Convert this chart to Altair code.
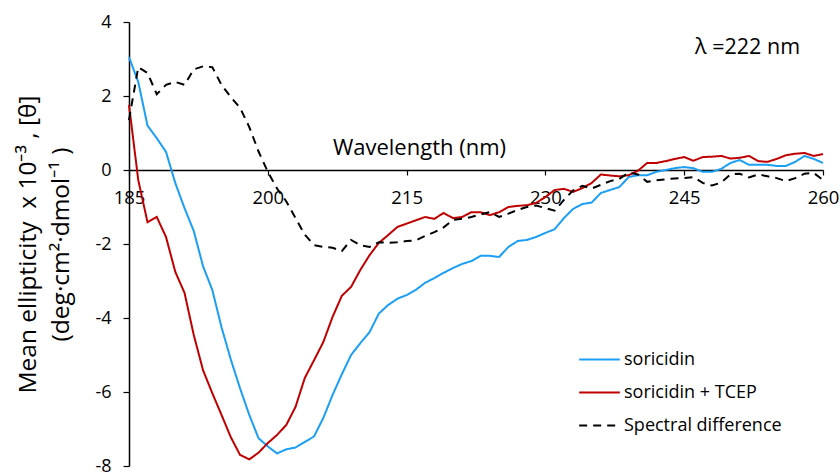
import altair as alt
import pandas as pd

# CD spectra, 185-260 nm in 1 nm steps
wavelength = list(range(185, 261))

soricidin = [
    3.05, 2.38, 1.20, 0.86, 0.49, -0.35, -1.03, -1.65, -2.60, -3.24,
    -4.25, -5.12, -5.90, -6.62, -7.25, -7.47, -7.66, -7.55, -7.50, -7.35,
    -7.20, -6.70, -6.08, -5.52, -5.00, -4.68, -4.38, -3.88, -3.65, -3.48,
    -3.38, -3.24, -3.05, -2.92, -2.78, -2.65, -2.54, -2.46, -2.32, -2.32,
    -2.35, -2.08, -1.92, -1.89, -1.81, -1.70, -1.60, -1.30, -1.05, -0.92,
    -0.88, -0.62, -0.54, -0.46, -0.19, -0.14, -0.14, -0.05, 0.00, 0.05,
    0.08, 0.05, -0.05, -0.05, 0.03, 0.19, 0.27, 0.14, 0.14, 0.14,
    0.11, 0.11, 0.22, 0.38, 0.30, 0.19,
]

soricidin_tcep = [
    1.76, -0.27, -1.41, -1.27, -1.81, -2.75, -3.32, -4.46, -5.41, -6.03,
    -6.62, -7.22, -7.70, -7.82, -7.64, -7.38, -7.16, -6.89, -6.40, -5.62,
    -5.14, -4.65, -3.97, -3.40, -3.16, -2.70, -2.30, -1.97, -1.76, -1.54,
    -1.45, -1.36, -1.27, -1.32, -1.16, -1.30, -1.27, -1.14, -1.14, -1.22,
    -1.14, -1.00, -0.97, -0.95, -0.89, -0.73, -0.54, -0.51, -0.59, -0.49,
    -0.35, -0.12, -0.15, -0.17, -0.14, -0.02, 0.19, 0.19, 0.24, 0.30,
    0.35, 0.25, 0.35, 0.36, 0.38, 0.31, 0.33, 0.38, 0.24, 0.22,
    0.30, 0.40, 0.44, 0.46, 0.38, 0.43,
]

spectral_difference = [
    1.35, 2.78, 2.62, 2.05, 2.30, 2.38, 2.30, 2.72, 2.80, 2.78,
    2.30, 1.97, 1.68, 1.16, 0.50, -0.05, -0.50, -0.85, -1.30, -1.75,
    -2.03, -2.08, -2.10, -2.19, -1.89, -2.03, -2.08, -1.95, -1.97, -1.95,
    -1.92, -1.90, -1.78, -1.68, -1.55, -1.35, -1.32, -1.27, -1.20, -1.14,
    -1.27, -1.18, -1.08, -1.00, -0.96, -1.03, -1.10, -0.81, -0.55, -0.43,
    -0.50, -0.40, -0.30, -0.24, -0.07, -0.12, -0.32, -0.28, -0.25, -0.23,
    -0.22, -0.19, -0.35, -0.42, -0.34, -0.12, -0.10, -0.20, -0.12, -0.17,
    -0.22, -0.30, -0.22, -0.10, -0.08, -0.27,
]

series_names = ["soricidin", "soricidin + TCEP", "Spectral difference"]
series_colors = ["#1A9FF5", "#C00000", "#000000"]
series_dashes = [[1, 0], [1, 0], [8, 6]]

x_ticks = [185, 200, 215, 230, 245, 260]
y_ticks = [4, 2, 0, -2, -4, -6, -8]

annotation_text = ["λ =222 nm"]
annotation_x = [251.85]
annotation_y = [3.3]

FONT = "Open Sans"

frames = []
for name, values in zip(series_names, [soricidin, soricidin_tcep, spectral_difference]):
    frames.append(pd.DataFrame({"wavelength": wavelength, "value": values, "series": name}))
spectra = pd.concat(frames, ignore_index=True)

notes = pd.DataFrame({"text": annotation_text, "x": annotation_x, "y": annotation_y})

x_enc = alt.X(
    "wavelength:Q",
    scale=alt.Scale(domain=[185, 260], nice=False, zero=False),
    axis=alt.Axis(
        values=x_ticks,
        labelExpr="'' + datum.value",
        labelFlush=False,
        labelOverlap=False,
        offset=-296,
        grid=False,
        domainColor="black",
        domainWidth=1.5,
        tickColor="black",
        tickWidth=1.2,
        tickSize=5,
        labelPadding=13,
        labelFont=FONT,
        labelFontSize=18.5,
        labelColor="black",
        title="Wavelength (nm)",
        titleFont=FONT,
        titleFontSize=22,
        titleFontWeight="normal",
        titleColor="black",
        titleX=290,
        titleY=-23,
        titleBaseline="middle",
        titleAlign="center",
    ),
)

y_enc = alt.Y(
    "value:Q",
    scale=alt.Scale(domain=[-8, 4], nice=False, zero=False),
    axis=alt.Axis(
        values=y_ticks,
        labelExpr="'' + datum.value",
        labelFlush=False,
        labelOverlap=False,
        grid=False,
        domainColor="black",
        domainWidth=1.5,
        tickColor="black",
        tickWidth=1.2,
        tickSize=6,
        labelPadding=12,
        labelFont=FONT,
        labelFontSize=18,
        labelColor="black",
        title=["Mean ellipticity\u00a0\u00a0x 10⁻³ , [θ]", "(deg·cm²·dmol⁻¹ )"],
        titleFont=FONT,
        titleFontSize=24.5,
        titleFontWeight="normal",
        titleColor="black",
        titleLineHeight=33,
        titlePadding=21,
    ),
)

lines = alt.Chart(spectra).mark_line(strokeWidth=2).encode(
    x=x_enc,
    y=y_enc,
    color=alt.Color(
        "series:N",
        scale=alt.Scale(domain=series_names, range=series_colors),
        legend=alt.Legend(
            title=None,
            orient="none",
            legendX=449,
            legendY=316,
            symbolType="stroke",
            symbolSize=1650,
            symbolStrokeWidth=2,
            labelFont=FONT,
            labelFontSize=18,
            labelLimit=400,
            labelColor="black",
            labelOffset=3,
            rowPadding=2,
        ),
    ),
    strokeDash=alt.StrokeDash(
        "series:N",
        scale=alt.Scale(domain=series_names, range=series_dashes),
        legend=None,
    ),
    order=alt.Order("wavelength:Q"),
)

label = alt.Chart(notes).mark_text(font=FONT, fontSize=21.5, color="black").encode(
    x="x:Q", y="y:Q", text="text:N"
)

chart = (
    alt.layer(lines, label)
    .properties(
        width=694,
        height=444,
        autosize=alt.AutoSizeParams(type="none"),
        padding={"left": 129, "top": 22, "right": 17, "bottom": 9},
        background="white",
    )
    .configure_view(stroke=None)
)

chart.save("out.html", embed_options={"renderer": "svg", "actions": False})
